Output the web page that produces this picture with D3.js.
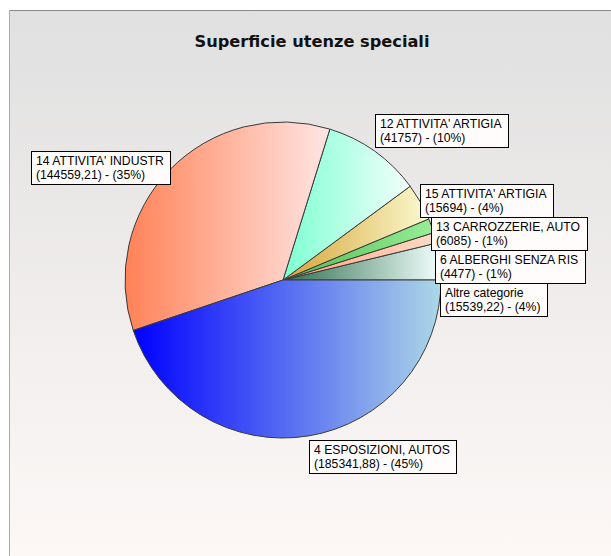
<!DOCTYPE html>
<html><head><meta charset="utf-8">
<script src="https://cdn.jsdelivr.net/npm/d3@7"></script>
<style>html,body{margin:0;padding:0;background:#fff;} svg{display:block}</style>
</head><body>
<svg id="chart" width="611" height="556"></svg>
<script>
// ---- data ----
const title = "Superficie utenze speciali";
const categories = ["Altre categorie", "6 ALBERGHI SENZA RIS", "13 CARROZZERIE, AUTO", "15 ATTIVITA' ARTIGIA", "12 ATTIVITA' ARTIGIA", "14 ATTIVITA' INDUSTR", "4 ESPOSIZIONI, AUTOS"];
const values = [15539.22, 4477, 6085, 15694, 41757, 144559.21, 185341.88];
// ---- styles ----
const gradStart = ["#2f6f4f", "#ffa080", "#4cbb4c", "#d6a437", "#7dffd2", "#ff8257", "#0000ff"];
const gradEnd   = ["#f2fffd", "#ffdcc4", "#98ee98", "#fbfad0", "#f3fffc", "#ffe6e4", "#add8e6"];

const W = 611, H = 556;
const svg = d3.select("#chart");
const defs = svg.append("defs");

// panel background
const bg = defs.append("linearGradient").attr("id", "bg").attr("x1", 0).attr("y1", 0).attr("x2", 0).attr("y2", 1);
bg.append("stop").attr("offset", "0%").attr("stop-color", "#e0e0e0");
bg.append("stop").attr("offset", "100%").attr("stop-color", "#fdf8f6");
svg.append("rect").attr("x", 9).attr("y", 10).attr("width", W - 9).attr("height", H - 10).attr("fill", "url(#bg)");
svg.append("line").attr("x1", 9).attr("y1", 10.5).attr("x2", W).attr("y2", 10.5).attr("stroke", "#8a8a8a");
svg.append("line").attr("x1", 9.5).attr("y1", 10).attr("x2", 9.5).attr("y2", H).attr("stroke", "#ababab");

// title
svg.append("text").attr("x", 312).attr("y", 47).attr("text-anchor", "middle")
  .attr("font-family", "'DejaVu Sans', Verdana, sans-serif").attr("font-weight", "bold")
  .attr("font-size", 15).attr("fill", "#111").attr("textLength", 235).attr("lengthAdjust", "spacingAndGlyphs")
  .text(title);

// pie
const cx = 283, cy = 280, R = 158;
const total = d3.sum(values);
const loc = d3.formatLocale({decimal: ",", thousands: ".", grouping: [3], currency: ["", "€"]});
const fmtVal = loc.format(".2~f");
const pie = d3.pie().sort(null).value(d => d).startAngle(Math.PI / 2).endAngle(Math.PI / 2 - 2 * Math.PI);
const arcs = pie(values);
const arc = d3.arc().innerRadius(0).outerRadius(R);

arcs.forEach((a, i) => {
  const g = defs.append("linearGradient").attr("id", "g" + i).attr("x1", 0).attr("y1", 0).attr("x2", 1).attr("y2", 0);
  g.append("stop").attr("offset", "0%").attr("stop-color", gradStart[i]);
  g.append("stop").attr("offset", "100%").attr("stop-color", gradEnd[i]);
});

const pg = svg.append("g").attr("transform", `translate(${cx},${cy})`);
pg.selectAll("path").data(arcs).join("path")
  .attr("d", arc)
  .attr("fill", (d, i) => `url(#g${i})`)
  .attr("stroke", "#3a3a3a").attr("stroke-width", 1).attr("stroke-linejoin", "round");

// labels
const lg = svg.append("g");
const boxH = 33;
const labels = arcs.map((a, i) => {
  const mid = (a.startAngle + a.endAngle) / 2;
  const px = cx + R * Math.sin(mid), py = cy - R * Math.cos(mid);
  const up = Math.cos(mid);
  const right = Math.sin(mid) >= 0;
  let c = Math.abs(up) > 0.75 ? py - (boxH / 2 + 6) * up : py;
  c -= 2;
  return {i, px, py, right, top: c - boxH / 2,
    l1: categories[i],
    l2: `(${fmtVal(values[i])}) - (${Math.round(values[i] / total * 100)}%)`};
});
// collision: stack per side top-down
[true, false].forEach(side => {
  const s = labels.filter(d => d.right === side).sort((a, b) => a.top - b.top);
  for (let k = 1; k < s.length; k++) {
    const prevBottom = s[k - 1].top + boxH;
    if (s[k].top < prevBottom) s[k].top = prevBottom;
  }
});

labels.forEach(d => {
  const g = lg.append("g");
  const rect = g.append("rect");
  const t1 = g.append("text").attr("font-family", "'Liberation Sans', Arial, sans-serif").attr("font-size", 12.2).attr("fill", "#000").text(d.l1);
  const t2 = g.append("text").attr("font-family", "'Liberation Sans', Arial, sans-serif").attr("font-size", 12.2).attr("fill", "#000").text(d.l2);
  const w = Math.ceil(Math.max(t1.node().getComputedTextLength(), t2.node().getComputedTextLength())) + 11;
  const x = d.right ? d.px : d.px - w;
  rect.attr("x", Math.round(x) + 0.5).attr("y", Math.round(d.top) + 0.5).attr("width", w).attr("height", boxH)
    .attr("fill", "#fffcfb").attr("stroke", "#000").attr("stroke-width", 1);
  t1.attr("x", Math.round(x) + 5).attr("y", Math.round(d.top) + 13.5);
  t2.attr("x", Math.round(x) + 5).attr("y", Math.round(d.top) + 27.5);
});
</script>
</body></html>
